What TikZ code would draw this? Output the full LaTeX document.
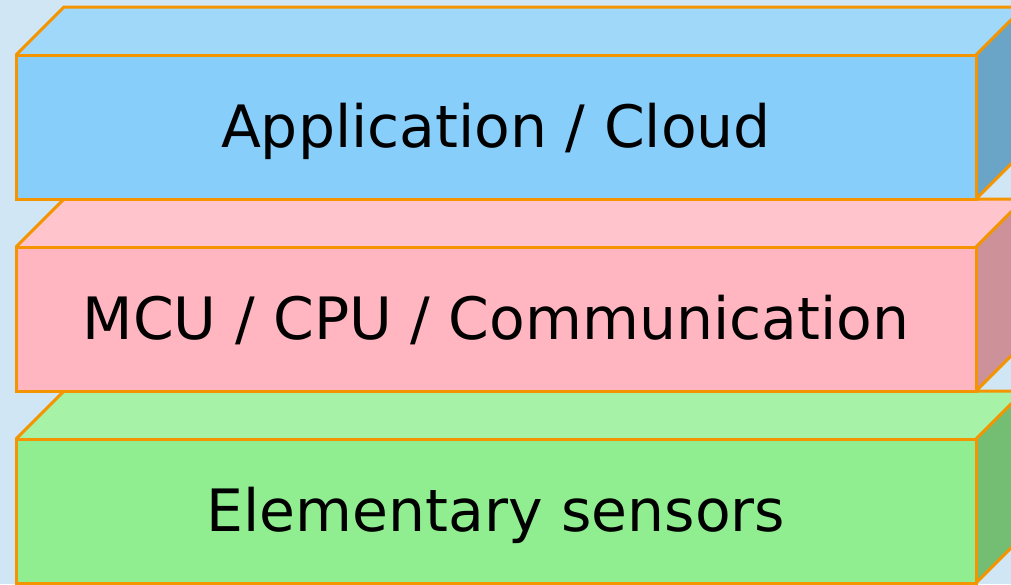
\documentclass[tikz,border=0pt]{standalone}
\usepackage{fontspec}
\setmainfont{DejaVu Sans}
\definecolor{bgblue}{RGB}{208,230,244}
\definecolor{edgeorange}{RGB}{243,148,0}
\definecolor{blueF}{RGB}{135,206,250}
\definecolor{blueT}{RGB}{160,216,250}
\definecolor{blueS}{RGB}{106,165,200}
\definecolor{pinkF}{RGB}{255,182,193}
\definecolor{pinkT}{RGB}{255,196,204}
\definecolor{pinkS}{RGB}{204,145,153}
\definecolor{greenF}{RGB}{144,238,144}
\definecolor{greenT}{RGB}{166,242,166}
\definecolor{greenS}{RGB}{115,190,115}
\tikzset{
  face/.style={draw=edgeorange, line width=3pt, line join=miter},
  layerlabel/.style={anchor=base, inner sep=0pt, font=\fontsize{58.4}{70}\selectfont, text=black}
}
\newcommand\layerbox[6]{% #1 top y of front, #2 front, #3 top, #4 side, #5 name, #6 text
  \fill[#3] (16,#1) -- (64,#1-48) -- (1024,#1-48) -- (976,#1) -- cycle;
  \fill[#4] (976,#1) -- (1024,#1-48) -- (1024,#1+96) -- (976,#1+144) -- cycle;
  \fill[#2] (16,#1) rectangle (976,#1+144);
  \draw[face] (16,#1) -- (64,#1-48) -- (1024,#1-48);
  \draw[face] (976,#1) -- (1024,#1-48);
  \draw[face] (976,#1+144) -- (1024,#1+96);
  \draw[face] (16,#1) rectangle (976,#1+144);
  \node[layerlabel] (#5) at (496,#1+92) {#6};
}
\begin{document}
\begin{tikzpicture}[x=1pt, y=-1pt]
  \useasboundingbox (0,0) rectangle (1011,584);
  \clip (0,0) rectangle (1011,584);
  \fill[bgblue] (0,0) rectangle (1011,584);
  \layerbox{439}{greenF}{greenT}{greenS}{sensors}{Elementary sensors}
  \layerbox{247}{pinkF}{pinkT}{pinkS}{mcu}{MCU / CPU / Communication}
  \layerbox{55}{blueF}{blueT}{blueS}{cloud}{Application / Cloud}
\end{tikzpicture}
\end{document}
